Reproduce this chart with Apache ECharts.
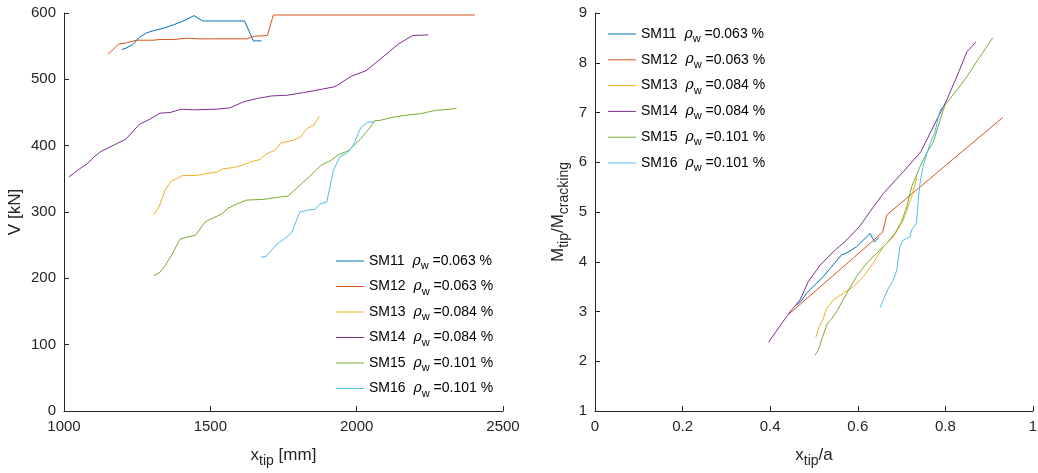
<!DOCTYPE html>
<html>
<head>
<meta charset="utf-8">
<script src="https://cdn.jsdelivr.net/npm/echarts@6/dist/echarts.min.js"></script>
<style>html,body{margin:0;padding:0;background:#fff}#c{width:1038px;height:473px}</style>
</head>
<body>
<div id="c"></div>
<script>
const names = ['SM11','SM12','SM13','SM14','SM15','SM16'];
const rhoW = ['0.063','0.063','0.084','0.084','0.101','0.101'];
const colors = ['#0072BD','#D95319','#EDB120','#7E2F8E','#77AC30','#4DBEEE'];
const leftXTicks = [1000,1500,2000,2500];
const leftYTicks = [0,100,200,300,400,500,600];
const rightXTicks = [0,0.2,0.4,0.6,0.8,1];
const rightYTicks = [1,2,3,4,5,6,7,8,9];

// Left: x_tip [mm] vs V [kN]
const SM11_V = [[1197,545],[1212,547],[1237,553],[1257,563],[1282,570],[1311,574],[1339,577],[1373,582],[1408,588],[1444,596],[1474,588],[1617,588],[1647,558],[1675,558]];
const SM12_V = [[1151,538],[1186,553],[1214,555],[1248,559],[1305,559],[1328,560],[1373,560],[1419,562],[1465,561],[1510,561],[1624,561],[1652,565],[1695,566],[1715,597],[2404,597]];
const SM13_V = [[1307,296],[1326,309],[1345,333],[1368,347],[1379,349],[1405,355],[1453,355],[1487,358],[1522,360],[1542,365],[1579,367],[1613,371],[1641,376],[1669,379],[1693,388],[1721,393],[1740,404],[1783,408],[1808,413],[1831,426],[1854,431],[1872,444]];
const SM14_V = [[1017,353],[1050,364],[1083,374],[1100,382],[1125,391],[1212,410],[1257,432],[1294,440],[1328,449],[1362,450],[1402,455],[1442,454],[1522,455],[1567,457],[1613,466],[1658,471],[1710,475],[1761,476],[1818,480],[1880,485],[1926,489],[1983,505],[2032,513],[2085,532],[2142,553],[2191,566],[2245,567]];
const SM15_V = [[1307,204],[1328,209],[1345,219],[1368,235],[1396,259],[1419,262],[1450,265],[1482,285],[1505,290],[1539,297],[1562,306],[1590,312],[1624,318],[1681,319],[1727,322],[1766,324],[1800,338],[1840,354],[1880,371],[1909,377],[1940,387],[1971,392],[2011,409],[2040,424],[2062,438],[2079,438],[2125,443],[2171,446],[2216,448],[2267,453],[2341,456]];
const SM16_V = [[1672,232],[1690,233],[1710,243],[1729,252],[1755,260],[1778,269],[1806,300],[1835,303],[1858,304],[1875,312],[1898,315],[1920,362],[1943,384],[1966,388],[1989,401],[2014,427],[2036,435],[2060,436]];

// Right: x_tip/a vs M_tip/M_cracking
const SM11_M = [[0.460,3.13],[0.470,3.20],[0.483,3.37],[0.521,3.70],[0.563,4.14],[0.573,4.17],[0.597,4.30],[0.628,4.57],[0.638,4.40],[0.649,4.49]];
const SM12_M = [[0.443,2.95],[0.632,4.40],[0.657,4.60],[0.666,4.94],[0.931,6.90]];
const SM13_M = [[0.504,2.48],[0.512,2.70],[0.520,2.83],[0.529,3.06],[0.544,3.23],[0.567,3.37],[0.590,3.50],[0.613,3.70],[0.635,3.97],[0.658,4.30],[0.681,4.50],[0.704,4.84],[0.723,5.31],[0.735,5.70]];
const SM14_M = [[0.396,2.38],[0.432,2.83],[0.445,2.99],[0.468,3.23],[0.487,3.60],[0.514,3.93],[0.544,4.20],[0.575,4.44],[0.605,4.72],[0.628,5.01],[0.658,5.37],[0.704,5.81],[0.744,6.21],[0.780,6.85],[0.803,7.25],[0.826,7.72],[0.849,8.22],[0.870,8.42]];
const SM15_M = [[0.502,2.12],[0.510,2.22],[0.520,2.50],[0.530,2.75],[0.540,2.85],[0.552,3.00],[0.575,3.37],[0.597,3.70],[0.620,3.97],[0.643,4.17],[0.666,4.37],[0.685,4.57],[0.700,4.81],[0.712,5.11],[0.723,5.51],[0.742,5.91],[0.757,6.18],[0.772,6.40],[0.788,6.85],[0.799,7.15],[0.826,7.45],[0.849,7.72],[0.879,8.12],[0.908,8.50]];
const SM16_M = [[0.651,3.08],[0.658,3.23],[0.670,3.47],[0.681,3.63],[0.689,3.83],[0.696,4.30],[0.704,4.44],[0.719,4.50],[0.723,4.64],[0.734,4.77],[0.738,5.24],[0.742,5.58],[0.750,5.95],[0.765,6.38],[0.776,6.60],[0.788,7.05],[0.795,7.12]];

const leftData = [SM11_V,SM12_V,SM13_V,SM14_V,SM15_V,SM16_V];
const rightData = [SM11_M,SM12_M,SM13_M,SM14_M,SM15_M,SM16_M];

const FONT = '"Liberation Sans", Arial, Helvetica, sans-serif';
const TXT = '#262626';
const rich = {
  n: {fontFamily: FONT, fontSize: 14, color: '#000'},
  r: {fontFamily: '"DejaVu Serif", serif', fontStyle: 'italic', fontSize: 14, color: '#000', padding:[0,0,0,4]},
  s: {fontFamily: FONT, fontSize: 11, color: '#000', verticalAlign: 'top', padding: [10,0,0,0]}
};
const axRich = {
  a: {fontFamily: FONT, fontSize: 17, color: TXT},
  b: {fontFamily: FONT, fontSize: 14, color: TXT, padding: [11,0,0,0]}
};
function legendFmt(name){
  const i = names.indexOf(name);
  return '{n|' + name + ' }{r|ρ}{s|w}{n| =' + rhoW[i] + ' %}';
}
function axisCommon(){
  return {
    axisLine: {show: true, onZero: false, lineStyle: {color: TXT, width: 1}},
    axisTick: {show: true, inside: true, length: 5, lineStyle: {color: TXT}},
    axisLabel: {color: TXT, fontFamily: FONT, fontSize: 15, formatter: v => String(v)},
    splitLine: {show: false}
  };
}
const series = [];
names.forEach((n,i)=>{
  series.push({name:n,type:'line',xAxisIndex:0,yAxisIndex:0,data:leftData[i],symbol:'none',showSymbol:false,
    lineStyle:{width:1,color:colors[i]},itemStyle:{color:colors[i]},animation:false});
  series.push({name:n,type:'line',xAxisIndex:1,yAxisIndex:1,data:rightData[i],symbol:'none',showSymbol:false,
    lineStyle:{width:1,color:colors[i]},itemStyle:{color:colors[i]},animation:false});
});
const chart = echarts.init(document.getElementById('c'), null, {renderer:'canvas'});
chart.setOption({
  backgroundColor: '#fff',
  animation: false,
  grid: [
    {left: 64, top: 13, width: 439, height: 398, containLabel: false, outerBoundsMode: 'none'},
    {left: 595, top: 13, width: 438, height: 398, containLabel: false, outerBoundsMode: 'none'}
  ],
  xAxis: [
    Object.assign(axisCommon(), {type:'value', gridIndex:0, min:leftXTicks[0], max:leftXTicks[leftXTicks.length-1], interval:500,
      name:'{a|x}{b|tip}{a| [mm]}', nameLocation:'middle', nameGap:32, nameTextStyle:{rich:axRich}}),
    Object.assign(axisCommon(), {type:'value', gridIndex:1, min:rightXTicks[0], max:rightXTicks[rightXTicks.length-1], interval:0.2,
      name:'{a|x}{b|tip}{a|/a}', nameLocation:'middle', nameGap:32, nameTextStyle:{rich:axRich}})
  ],
  yAxis: [
    Object.assign(axisCommon(), {type:'value', gridIndex:0, min:leftYTicks[0], max:leftYTicks[leftYTicks.length-1], interval:100,
      name:'V [kN]', nameLocation:'middle', nameGap:40, nameTextStyle:{fontFamily:FONT,fontSize:17,color:TXT}}),
    Object.assign(axisCommon(), {type:'value', gridIndex:1, min:rightYTicks[0], max:rightYTicks[rightYTicks.length-1], interval:1,
      name:'{a|M}{b|tip}{a|/M}{b|cracking}', nameLocation:'middle', nameGap:24, nameTextStyle:{rich:axRich}})
  ],
  legend: [
    {orient:'vertical', left:331, top:249, itemWidth:28, itemHeight:1, itemGap:8, icon:'rect', data:names,
      formatter:legendFmt, textStyle:{rich:rich}},
    {orient:'vertical', left:603, top:22, itemWidth:28, itemHeight:1, itemGap:8.3, icon:'rect', data:names,
      formatter:legendFmt, textStyle:{rich:rich}}
  ],
  series: series
});
</script>
</body>
</html>
